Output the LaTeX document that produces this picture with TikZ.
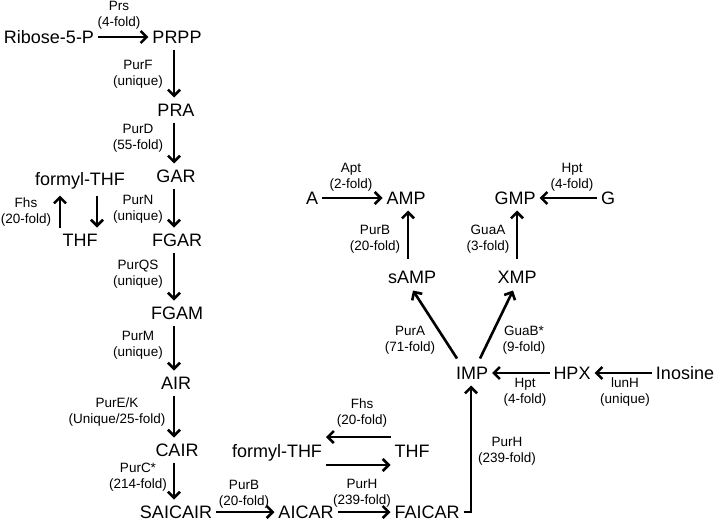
\documentclass[tikz,border=0pt]{standalone}
\usepackage{fontspec}
\setmainfont{Liberation Sans}
\usetikzlibrary{arrows.meta}
\begin{document}
\begin{tikzpicture}[x=1pt,y=-1pt,
  met/.style={font=\fontsize{18}{18}\selectfont, inner xsep=4pt, inner ysep=6pt, text height=13pt, text depth=0pt, outer sep=0pt},
  enz/.style={font=\fontsize{13.5}{16}\selectfont, align=center, inner sep=0pt},
  rx/.style={line width=2.6pt, -{Straight Barb[length=6pt,width=12pt,line width=2.6pt]}}]
\useasboundingbox (0,0) rectangle (714,522);
% metabolites
\node[met] (R5P) at (49,37) {Ribose-5-P};
\node[met] (PRPP) at (177,37) {PRPP};
\node[met] (PRA) at (176,110) {PRA};
\node[met] (GAR) at (176,176) {GAR};
\node[met] (FGAR) at (177,240) {FGAR};
\node[met] (FGAM) at (177,313) {FGAM};
\node[met] (AIR) at (176,383) {AIR};
\node[met] (CAIR) at (177,450) {CAIR};
\node[met] (SAICAIR) at (176,512) {SAICAIR};
\node[met] (AICAR) at (306,512) {AICAR};
\node[met] (FAICAR) at (427,512) {FAICAR};
\node[met] (fTHFa) at (80,179) {formyl-THF};
\node[met] (THFa) at (80,240) {THF};
\node[met] (fTHFb) at (277,451) {formyl-THF};
\node[met] (THFb) at (412,451) {THF};
\node[met] (IMP) at (472,373) {IMP};
\node[met] (HPX) at (572,373) {HPX};
\node[met] (Ino) at (685,373) {Inosine};
\node[met] (sAMP) at (412,277) {sAMP};
\node[met] (XMP) at (517,277) {XMP};
\node[met] (AMP) at (406,198) {AMP};
\node[met] (GMP) at (515,198) {GMP};
\node[met] (A) at (312,198) {A};
\node[met] (G) at (608,198) {G};
% reactions
\draw[rx] (R5P) -- (PRPP);
\draw[rx] ([xshift=-3pt]PRPP.south) -- ([xshift=-2pt]PRA.north);
\draw[rx] ([xshift=-2pt]PRA.south) -- ([xshift=-2pt]GAR.north);
\draw[rx] ([xshift=-2pt]GAR.south) -- ([xshift=-3pt]FGAR.north);
\draw[rx] ([xshift=-3pt]FGAR.south) -- ([xshift=-3pt]FGAM.north);
\draw[rx] ([xshift=-3pt]FGAM.south) -- ([xshift=-2pt]AIR.north);
\draw[rx] ([xshift=-2pt]AIR.south) -- ([xshift=-3pt]CAIR.north);
\draw[rx] ([xshift=-3pt]CAIR.south) -- ([xshift=-2pt]SAICAIR.north);
\draw[rx] (SAICAIR) -- (AICAR);
\draw[rx] (AICAR) -- (FAICAR);
\draw[rx] (FAICAR.east) -| ([xshift=-1pt]IMP.south);
\draw[rx,shorten >=4pt] ([xshift=-20pt]THFa.north) -- ([xshift=-20pt]fTHFa.south);
\draw[rx,shorten <=4pt] ([xshift=17pt]fTHFa.south) -- ([xshift=17pt]THFa.north);
\draw[rx] ([yshift=14pt]THFb.west) -- ([yshift=14pt]fTHFb.east);
\draw[rx] ([yshift=-14pt]fTHFb.east) -- ([yshift=-14pt]THFb.west);
\draw[rx] (Ino) -- (HPX);
\draw[rx] (HPX) -- (IMP);
\draw[rx] ([xshift=-15pt,yshift=2pt]IMP.north) -- ([xshift=1pt,yshift=-1pt]sAMP.south);
\draw[rx] ([xshift=8pt,yshift=2pt]IMP.north) -- ([xshift=-4pt,yshift=-1pt]XMP.south);
\draw[rx,shorten <=6pt] ([xshift=-4pt]sAMP.north) -- ([xshift=2pt]AMP.south);
\draw[rx,shorten <=6pt] (XMP.north) -- ([xshift=2pt]GMP.south);
\draw[rx] (A) -- (AMP);
\draw[rx] (G) -- (GMP);
% enzyme labels
\node[enz] (l1) at (119,15) {Prs\\(4-fold)};
\node[enz] (l2) at (138,74) {PurF\\(unique)};
\node[enz] (l3) at (138,138) {PurD\\(55-fold)};
\node[enz] (l4) at (26,212) {Fhs\\(20-fold)};
\node[enz] (l5) at (138,209) {PurN\\(unique)};
\node[enz] (l6) at (138,274) {PurQS\\(unique)};
\node[enz] (l7) at (138,345) {PurM\\(unique)};
\node[enz] (l8) at (117,412) {PurE/K\\(Unique/25-fold)};
\node[enz] (l9) at (138,477) {PurC*\\(214-fold)};
\node[enz] (l10) at (244,494) {PurB\\(20-fold)};
\node[enz] (l11) at (362,493) {PurH\\(239-fold)};
\node[enz] (l12) at (362,413) {Fhs\\(20-fold)};
\node[enz] (l13) at (507,451) {PurH\\(239-fold)};
\node[enz] (l14) at (525,392) {Hpt\\(4-fold)};
\node[enz] (l15) at (625,392) {lunH\\(unique)};
\node[enz] (l16) at (410,340) {PurA\\(71-fold)};
\node[enz] (l17) at (524,340) {GuaB*\\(9-fold)};
\node[enz] (l18) at (351,177) {Apt\\(2-fold)};
\node[enz] (l19) at (572,177) {Hpt\\(4-fold)};
\node[enz] (l20) at (375,239) {PurB\\(20-fold)};
\node[enz] (l21) at (488,239) {GuaA\\(3-fold)};
\end{tikzpicture}
\end{document}
